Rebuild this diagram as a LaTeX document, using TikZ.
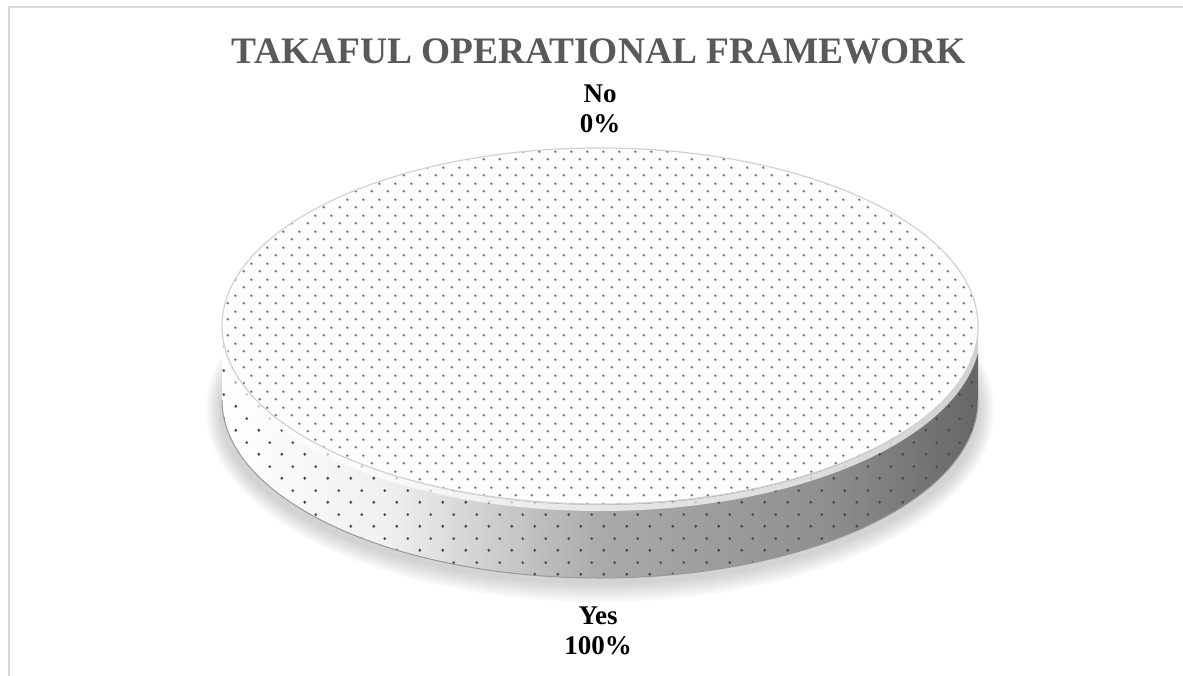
\documentclass[tikz,border=0pt]{standalone}
\usepackage{fontspec}
\setmainfont{Liberation Serif}
\usepackage{xcolor}
\usepackage{tikz}
\usetikzlibrary{patterns.meta}

\definecolor{titlegray}{HTML}{595959}
\definecolor{framegray}{HTML}{D9D9D9}

\pgfdeclarehorizontalshading{sideshade}{100bp}{color(0bp)=(white); color(25bp)=(white); color(36bp)=(black!6); color(50bp)=(black!33); color(65bp)=(black!44); color(75bp)=(black!60); color(100bp)=(black!60)}

\tikzdeclarepattern{
  name=topdots, type=uncolored,
  bounding box={(0,0) and (8pt,8pt)},
  tile size={(8pt,8pt)},
  code={\fill (2pt,2pt) circle (0.7pt); \fill (6pt,6pt) circle (0.7pt);}
}
\tikzdeclarepattern{
  name=sidedots, type=uncolored,
  bounding box={(0,0) and (11.5pt,12pt)},
  tile size={(11.5pt,12pt)},
  code={\fill (3pt,3pt) circle (0.8pt); \fill (8.75pt,9pt) circle (0.8pt);}
}

\begin{document}
\begin{tikzpicture}[x=0.5pt, y=-0.5pt,
  ttl/.style={font=\bfseries\fontsize{18.7}{23}\selectfont, text=titlegray, inner sep=0pt},
  lbl/.style={font=\bfseries\fontsize{13.5}{15}\selectfont, align=center, inner sep=0pt}]
 \useasboundingbox (0,0) rectangle (1183,675);
 \draw [framegray, line width=0.75pt] (9,7) rectangle (1200,700);
 % soft shadow under the disc
 \foreach \i in {1,...,8}
   \fill [black, opacity=0.025] (600,410) ellipse [x radius=378+2*\i, y radius=172+2.5*\i];
 % side of the disc
 \shade [shading=sideshade, postaction={pattern=sidedots, pattern color=black!70}]
   (222,326) -- (222,400) arc [start angle=180, end angle=0, x radius=378, y radius=178]
   -- (978,326) arc [start angle=0, end angle=180, x radius=378, y radius=178] -- cycle;
 \draw [black!40, line width=0.5pt] (222,400) arc [start angle=180, end angle=0, x radius=378, y radius=178];
 % top face
 \fill [white, postaction={pattern=topdots, pattern color=black!55}] (600,326) ellipse [x radius=378, y radius=178];
 \draw [white, opacity=0.7, line width=3pt] (978,330) arc [start angle=0, end angle=180, x radius=378, y radius=178];
 \draw [black!18, line width=0.6pt] (600,326) ellipse [x radius=378, y radius=178];
 % labels
 \node [ttl, anchor=base] (title) at (599,63) {TAKAFUL OPERATIONAL FRAMEWORK};
 \node [lbl] (nolbl) at (600,109) {No\\0\%};
 \node [lbl] (yeslbl) at (598,631) {Yes\\100\%};
\end{tikzpicture}
\end{document}
